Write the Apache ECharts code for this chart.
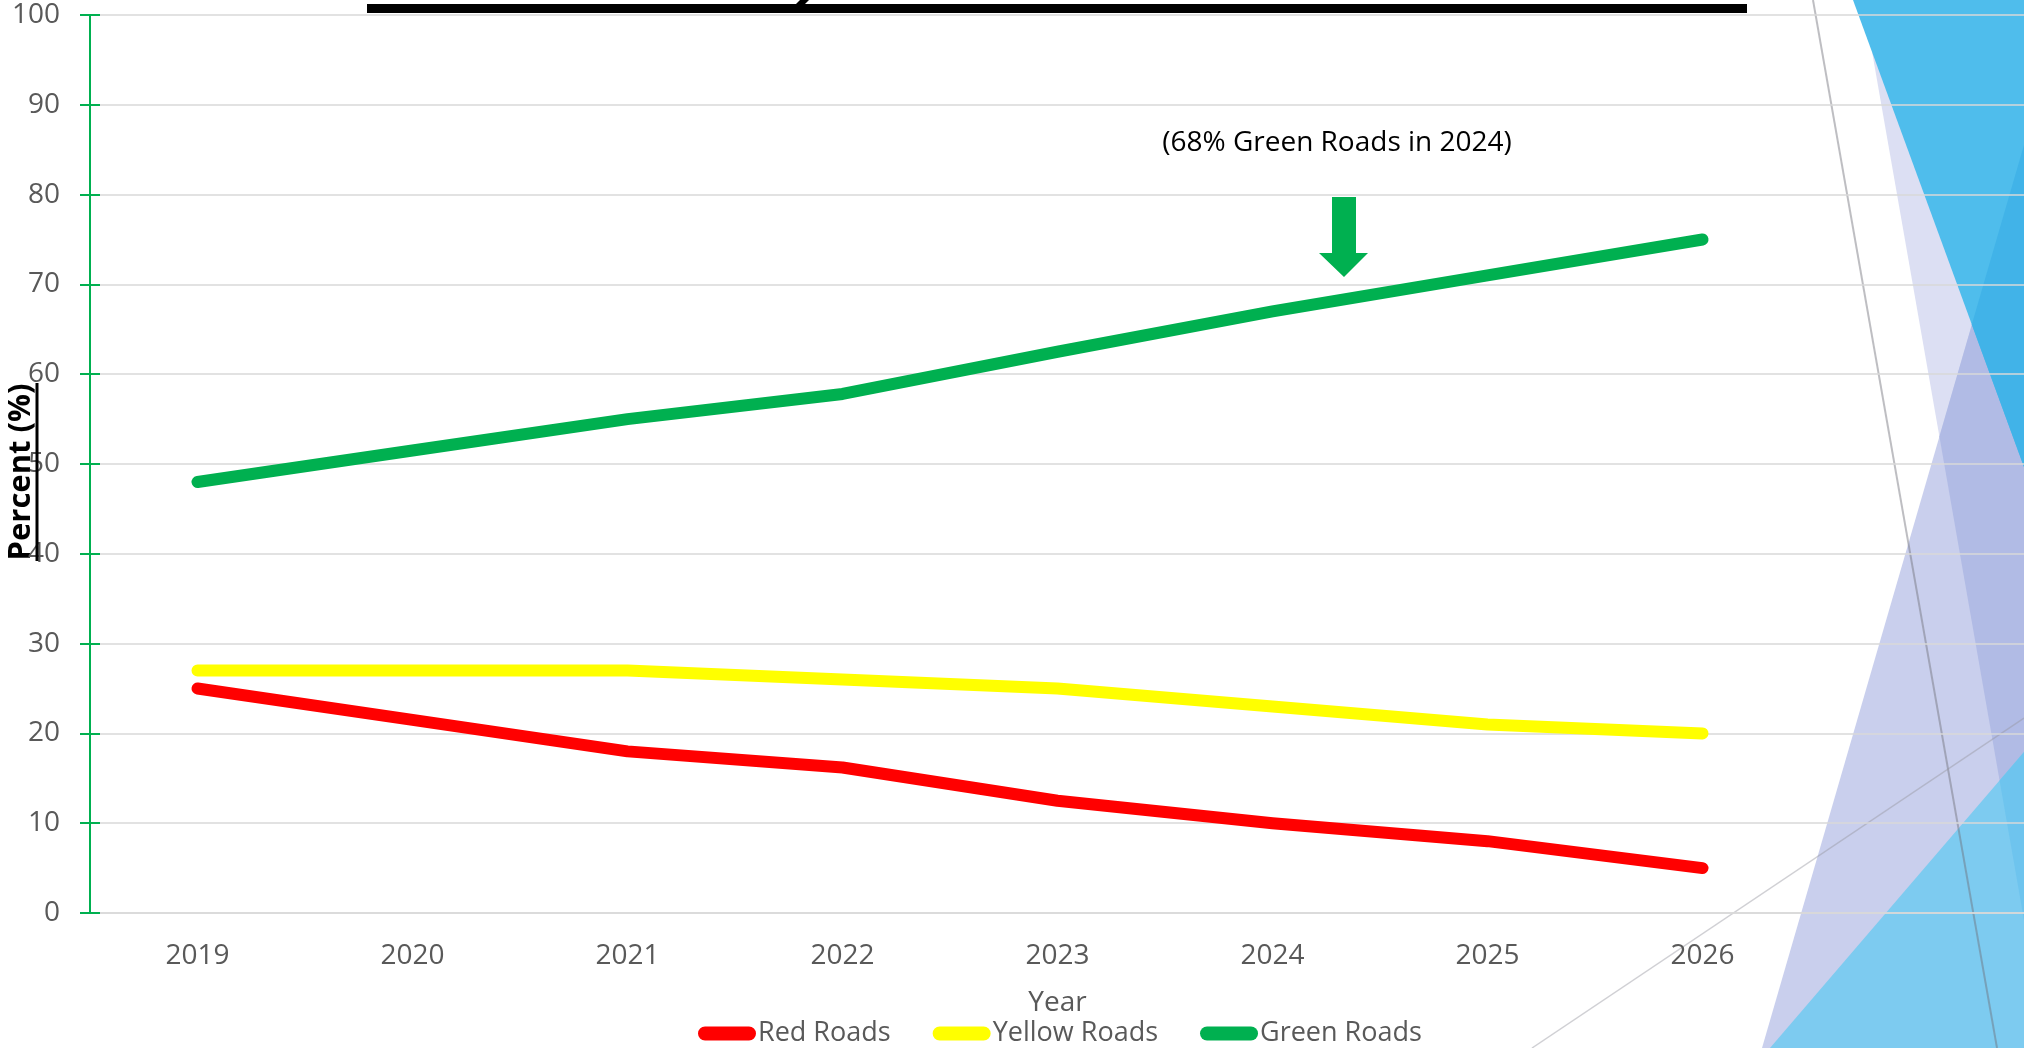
<!DOCTYPE html>
<html>
<head>
<meta charset="utf-8">
<script src="https://cdn.jsdelivr.net/npm/echarts@6/dist/echarts.min.js"></script>
<style>
  html, body { margin: 0; padding: 0; background: #fff; }
  #chart { width: 2024px; height: 1048px; }
</style>
</head>
<body>
<div id="chart"></div>
<script>
// chart data
const years = ["2019", "2020", "2021", "2022", "2023", "2024", "2025", "2026", ""];
const redRoads = [25, 21.5, 18, 16.2, 12.5, 10, 8, 5];
const yellowRoads = [27, 27, 27, 26, 25, 23, 21, 20];
const greenRoads = [48, 51.5, 55, 57.8, 62.5, 67, 71, 75];
const yMin = 0, yMax = 100, yStep = 10;

const FONT = "'Open Sans', 'Noto Sans', sans-serif";
const GREY_TEXT = "#595959";
const GRID_LINE = "#D9D9D9";
const GREEN = "#00B050";

// slide background shapes (pure decoration, behind the chart)
function poly(points, fill) {
  return { type: "polygon", z: -10, silent: true, shape: { points }, style: { fill } };
}
function seg(x1, y1, x2, y2, stroke, lineWidth) {
  return { type: "line", z: -9, silent: true, shape: { x1, y1, x2, y2 }, style: { stroke, lineWidth } };
}

const decorations = [
  poly([[1863, 0], [2024, 0], [2024, 920]], "#DCDFF3"),
  poly([[1762, 1048], [2024, 145], [2024, 1048]], "#C9CFED"),
  poly([[2024, 145], [1939.4, 436.5], [2024, 920]], "#B1BBE5"),
  poly([[1853, 0], [2024, 0], [2024, 467]], "#4FBDEC"),
  poly([[2024, 145], [1971.8, 324.5], [2024, 467]], "#41B3E8"),
  poly([[1770, 1048], [2024, 752], [2024, 1048]], "#7DCBF0"),
  poly([[2024, 752], [1999.6, 780.5], [2024, 920]], "#6EC4EE"),
  seg(1813, 0, 1997, 1048, "rgba(110,110,120,0.45)", 2),
  seg(1532, 1048, 2024, 718, "rgba(150,150,160,0.45)", 1.5),
];

const chart = echarts.init(document.getElementById("chart"), null, { renderer: "canvas" });

const option = {
  animation: false,
  backgroundColor: "#fff",
  textStyle: { fontFamily: FONT },
  grid: { left: 90, right: -1, top: 15, bottom: 135, outerBoundsMode: "none", containLabel: false },
  legend: {
    data: ["Red Roads", "Yellow Roads", "Green Roads"],
    left: 693,
    top: 1015,
    itemWidth: 58,
    itemHeight: 14,
    itemGap: 42,
    icon: "path://M7,0 H51 A7,7 0 0 1 51,14 H7 A7,7 0 0 1 7,0 Z",
    textStyle: { color: GREY_TEXT, fontSize: 27, fontFamily: FONT, padding: [0, 0, 0, -3] },
  },
  xAxis: {
    type: "category",
    data: years,
    boundaryGap: true,
    name: "Year",
    nameLocation: "middle",
    nameGap: 76,
    nameMoveOverlap: false,
    nameTextStyle: { color: GREY_TEXT, fontSize: 28, fontFamily: FONT },
    axisLine: { show: true, lineStyle: { color: GRID_LINE, width: 1.5 } },
    axisTick: { show: false },
    axisLabel: { color: GREY_TEXT, fontSize: 28, fontFamily: FONT, margin: 29 },
    splitLine: { show: false },
  },
  yAxis: [
    {
      type: "value",
      min: yMin,
      max: yMax,
      interval: yStep,
      name: "Percent (%)",
      nameLocation: "middle",
      nameGap: 53,
      nameRotate: 90,
      nameMoveOverlap: false,
      nameTextStyle: { color: "#000", fontSize: 31, fontWeight: "bold", fontFamily: FONT, padding: [0, 16, 0, 0] },
      axisLine: { show: true, lineStyle: { color: GREEN, width: 2 } },
      axisTick: { show: true, length: 10, lineStyle: { color: GREEN, width: 2 } },
      axisLabel: { color: GREY_TEXT, fontSize: 28, fontFamily: FONT, margin: 30 },
      splitLine: { show: true, lineStyle: { color: GRID_LINE, width: 1.5 } },
    },
    {
      type: "value",
      min: yMin,
      max: yMax,
      interval: yStep,
      position: "left",
      axisLine: { show: true, lineStyle: { color: GREEN, width: 2 } },
      axisTick: { show: true, inside: true, length: 10, lineStyle: { color: GREEN, width: 2 } },
      axisLabel: { show: false },
      splitLine: { show: false },
    },
  ],
  series: [
    {
      name: "Red Roads",
      type: "line",
      data: redRoads,
      showSymbol: false,
      color: "#FF0000",
      lineStyle: { width: 12, color: "#FF0000", cap: "round", join: "round" },
    },
    {
      name: "Yellow Roads",
      type: "line",
      data: yellowRoads,
      showSymbol: false,
      color: "#FFFF00",
      lineStyle: { width: 12, color: "#FFFF00", cap: "round", join: "round" },
    },
    {
      name: "Green Roads",
      type: "line",
      data: greenRoads,
      showSymbol: false,
      color: GREEN,
      lineStyle: { width: 12, color: GREEN, cap: "round", join: "round" },
    },
  ],
  graphic: decorations.concat([
    // black title bar peeking in at the top
    { type: "rect", z: 10, shape: { x: 367, y: 4, width: 1380, height: 9 }, style: { fill: "#000" } },
    { type: "polygon", z: 10, shape: { points: [[800, 0], [809, 0], [804, 5], [795, 5]] }, style: { fill: "#000" } },
    // underline of the y axis name
    { type: "line", z: 10, shape: { x1: 37, y1: 383, x2: 37, y2: 561 }, style: { stroke: "#000", lineWidth: 3 } },
    // annotation
    {
      type: "text",
      z: 10,
      x: 1337,
      y: 143,
      style: {
        text: "(68% Green Roads in 2024)",
        fill: "#000",
        font: "28px " + FONT,
        align: "center",
        verticalAlign: "middle",
      },
    },
    {
      type: "polygon",
      z: 10,
      shape: {
        points: [[1332, 197], [1356, 197], [1356, 253], [1368, 253], [1344, 277], [1319, 253], [1332, 253]],
      },
      style: { fill: GREEN },
    },
  ]),
};

chart.setOption(option);
</script>
</body>
</html>
